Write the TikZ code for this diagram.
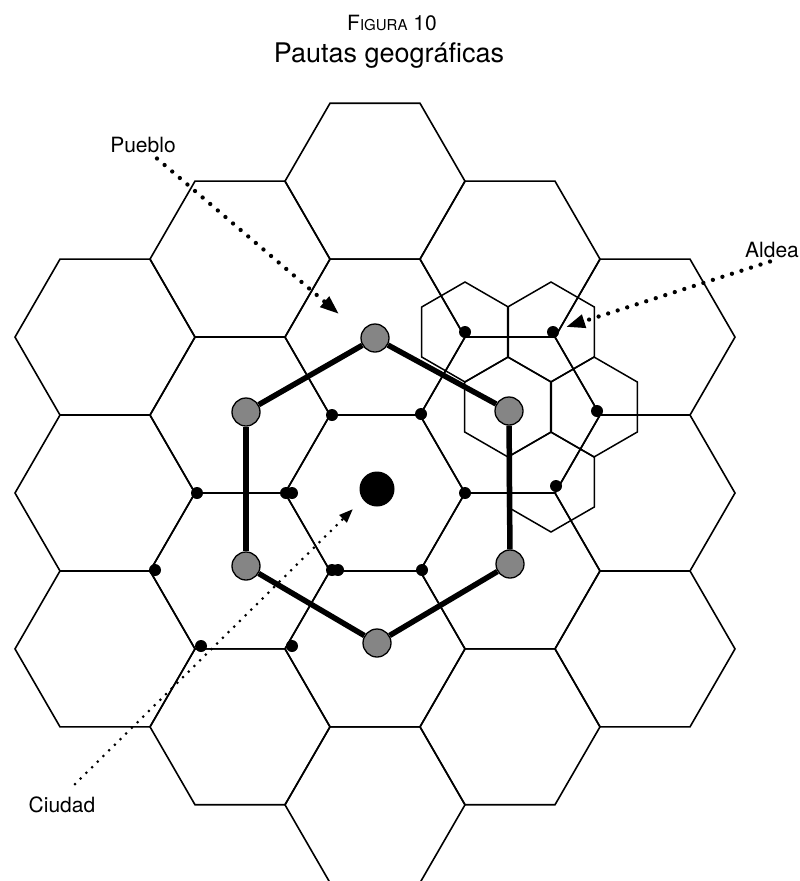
\documentclass[tikz,border=0pt]{standalone}
\usepackage{fontspec}
\setmainfont{TeX Gyre Heros}
\usepackage{tikz}
\usetikzlibrary{arrows.meta,calc}

\begin{document}
\begin{tikzpicture}[x=1pt, y=-1pt,
  cell/.style={line width=1.6pt},
  aldeacell/.style={line width=1.5pt},
  link/.style={line width=5.5pt},
  village/.style={circle, fill=black, inner sep=0pt, minimum size=12pt},
  town/.style={circle, draw=black, line width=1.3pt, fill=black!48, inner sep=0pt, minimum size=28pt},
  city/.style={circle, fill=black, inner sep=0pt, minimum size=35pt},
  lbl/.style={font=\fontsize{21}{24}\selectfont, anchor=base, inner sep=2pt},
  pointer/.style={line width=4.3pt, line cap=round, dash pattern=on 0pt off 10pt, -{Triangle[length=19pt,width=13pt]}},
  thinpointer/.style={line width=3pt, line cap=round, dash pattern=on 0pt off 8pt, -{Triangle[length=14pt,width=10pt]}},
]
\useasboundingbox (0,0) rectangle (800,881);

% title
\node[anchor=base] (fig) at (392,30) {\fontsize{21}{24}\selectfont F\fontsize{15}{18}\selectfont IGURA\fontsize{21}{24}\selectfont\ 10};
\node[anchor=base, font=\fontsize{27}{30}\selectfont] (title) at (389,62) {Pautas geográficas};

% large hexagonal grid
\begin{scope}
\clip (0,0) rectangle (800,881);
\foreach \cx/\cy in {105/337.1, 105/493, 105/648.9,
                     240/259.1, 240/415.1, 240/570.9, 240/726.8,
                     375/181.2, 375/337.1, 375/493, 375/648.9, 375/804.8,
                     510/259.1, 510/415.1, 510/570.9, 510/726.8,
                     645/337.1, 645/493, 645/648.9}
  \draw[cell, shift={(\cx,\cy)}] (0:90) -- (60:90) -- (120:90) -- (180:90) -- (240:90) -- (300:90) -- cycle;
\end{scope}

% small cells round one town
\foreach \cx/\cy in {508/407, 465/332, 551/332, 594/407, 551/482}
  \draw[aldeacell, shift={(\cx,\cy)}] (30:50) -- (90:50) -- (150:50) -- (210:50) -- (270:50) -- (330:50) -- cycle;

% villages
\node[village] (v1) at (465,493) {};
\node[village] (v2) at (421,414) {};
\node[village] (v3) at (332,415) {};
\node[village] (v4) at (286,493) {};
\node[village] (v4b) at (292,493) {};
\node[village] (v5) at (332,570) {};
\node[village] (v5b) at (338,570) {};
\node[village] (v6) at (422,570) {};
\node[village] (v7) at (292,646) {};
\node[village] (v8) at (201,646) {};
\node[village] (v9) at (155,570) {};
\node[village] (v10) at (197,493) {};
\node[village] (v11) at (597,411) {};
\node[village] (v12) at (553,332) {};
\node[village] (v13) at (465,332) {};
\node[village] (v14) at (556,486) {};

% towns
\node[town] (p1) at (375,338) {};
\node[town] (p2) at (509,411) {};
\node[town] (p3) at (510,564) {};
\node[town] (p4) at (377,643) {};
\node[town] (p5) at (246,566) {};
\node[town] (p6) at (246,412) {};
\draw[link] (p1) -- (p2);
\draw[link] (p2) -- (p3);
\draw[link] (p3) -- (p4);
\draw[link] (p4) -- (p5);
\draw[link] (p5) -- (p6);
\draw[link] (p6) -- (p1);

% city
\node[city] (city) at (377,489) {};

% labels
\node[lbl] (pueblo) at (143,152) {Pueblo};
\node[lbl] (aldea) at (772,257) {Aldea};
\node[lbl] (ciudad) at (62,812) {Ciudad};
\coordinate (puebloTip) at (339,314);
\coordinate (aldeaTip) at (566,327);
\coordinate (ciudadTip) at (353,509);

\draw[pointer] ($(pueblo.south)+(14,4)$) -- (puebloTip);
\draw[pointer] ($(aldea.south)+(-2,2)$) -- (aldeaTip);
\draw[thinpointer] ($(ciudad.north)+(13,-10)$) -- (ciudadTip);
\end{tikzpicture}
\end{document}
